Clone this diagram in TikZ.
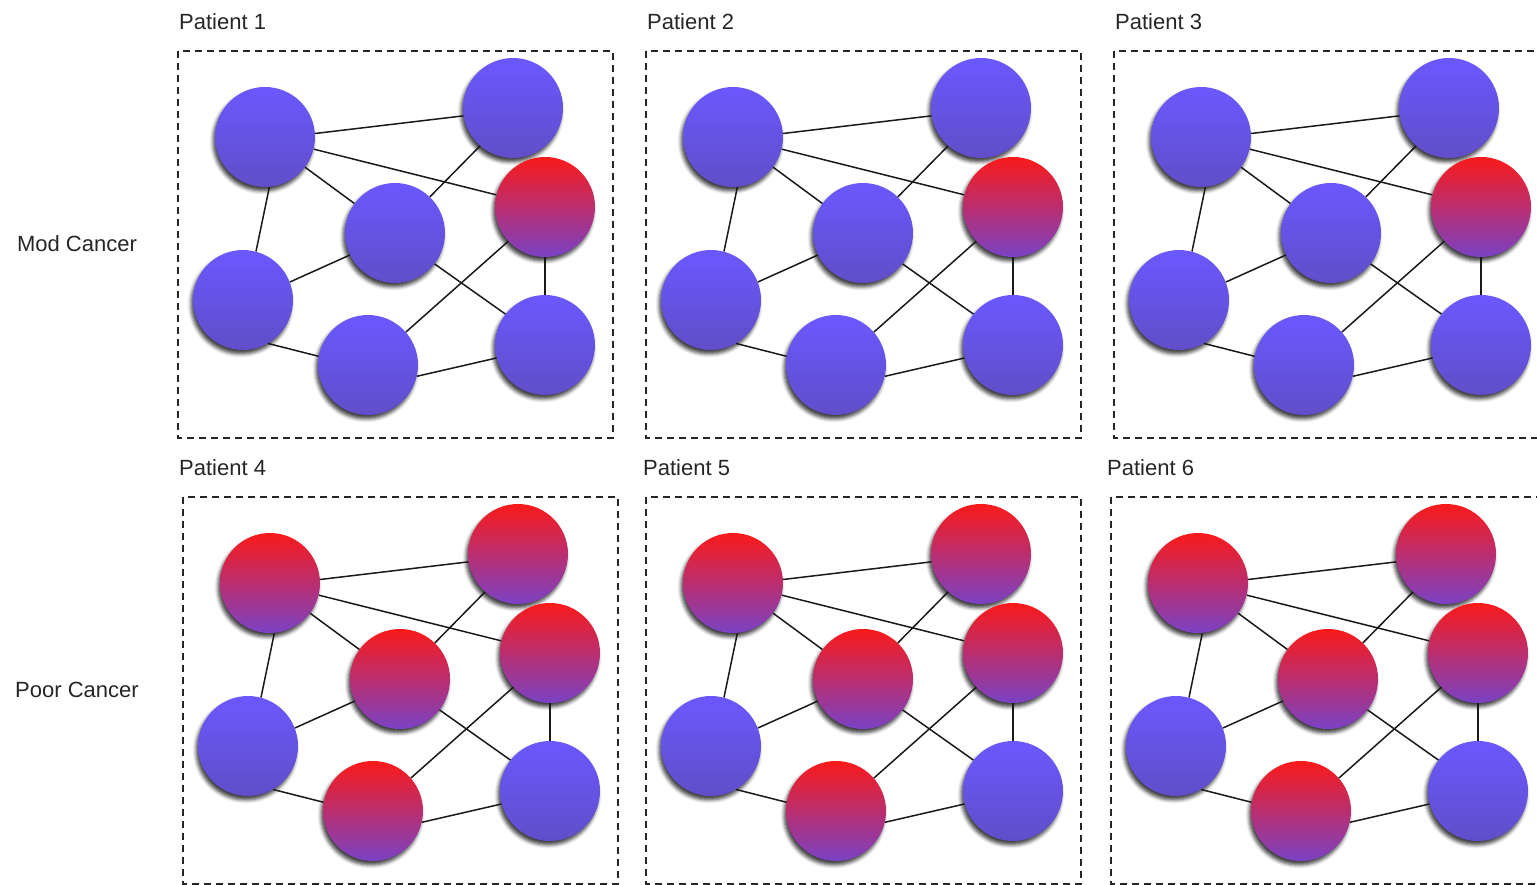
\documentclass[tikz,border=0pt]{standalone}
\usepackage{fontspec}
\setmainfont{Liberation Sans}
\usepackage{tikz}
\usetikzlibrary{shadows.blur}

\definecolor{nodeblue}{RGB}{106,88,255}
\definecolor{nodeblueb}{RGB}{96,78,200}
\definecolor{nodered}{RGB}{250,26,26}
\definecolor{nodemid}{RGB}{200,42,80}
\definecolor{nodepurple}{RGB}{122,66,196}

\tikzset{
  every picture/.style={x=1pt, y=-1pt},
  ball/.style={circle, minimum size=100pt, inner sep=0pt,
    blur shadow={shadow xshift=-2pt, shadow yshift=-4pt, shadow blur radius=3.5pt, shadow opacity=75}},
  bluenode/.style={ball, top color=nodeblue, bottom color=nodeblueb},
  rednode/.style={ball, top color=nodered, middle color=nodemid, bottom color=nodepurple},
  frame/.style={draw=black!85, line width=1.4pt, dash pattern=on 7pt off 5pt},
  link/.style={draw=black!90, line width=1.5pt},
  tagtext/.style={anchor=west, inner sep=0pt, text=black!85, font=\fontsize{22}{26}\selectfont},
  rowtext/.style={inner sep=0pt, text=black!85, font=\fontsize{22}{26}\selectfont},
  % colour of each ball per group
  mod/.style={ca/.style=bluenode, cb/.style=bluenode, cc/.style=rednode, cd/.style=bluenode,
              ce/.style=bluenode, cf/.style=bluenode, cg/.style=bluenode},
  poor/.style={ca/.style=rednode, cb/.style=rednode, cc/.style=rednode, cd/.style=rednode,
               ce/.style=bluenode, cf/.style=rednode, cg/.style=bluenode}
}

\begin{document}
\begin{tikzpicture}
  \useasboundingbox (0,0) rectangle (1537,885);
  \clip (0,0) rectangle (1537,885);

  % Row labels
  \node[rowtext] (modrow) at (77,244) {Mod Cancer};
  \node[rowtext] (poorrow) at (77,690) {Poor Cancer};

  % Panels
  \foreach \px/\py/\num/\lx/\grp in {178/51/1/179/mod, 646/51/2/647/mod, 1114/51/3/1115/mod,
                                     183/497/4/179/poor, 646/497/5/643/poor, 1111/497/6/1107/poor} {
    \node[tagtext] (tag\num) at (\lx,\py-29) {Patient \num};
    \begin{scope}[shift={(\px,\py)}, \grp]
      \draw[frame] (0,0) rectangle (435,387);

      \node[ca] (p\num a) at (87,86) {};
      \node[cb] (p\num b) at (335,57) {};
      \node[cc] (p\num c) at (367,156) {};
      \node[cd] (p\num d) at (217,182) {};
      \node[ce] (p\num e) at (65,249) {};
      \node[cf] (p\num f) at (190,314) {};
      \node[cg] (p\num g) at (367,294) {};

      % Links
      \foreach \u/\au/\v/\av in {a/4/b/-171, a/-14/c/166, a/-37/d/144, a/-85/e/75,
                                 b/-131/d/46, d/206/e/21, d/-38/g/142, c/-137/f/41,
                                 c/-90/g/90, e/-60/f/170, f/-13/g/-165}
        \draw[link] (p\num\u.\au) -- (p\num\v.\av);
    \end{scope}
  }
\end{tikzpicture}
\end{document}
